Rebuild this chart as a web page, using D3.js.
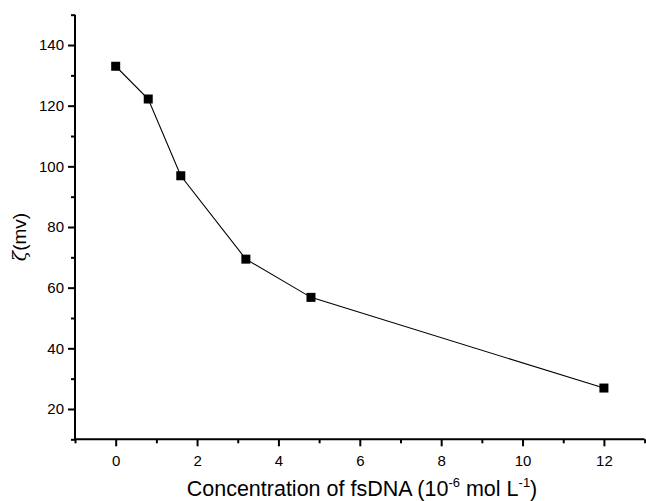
<!DOCTYPE html>
<html>
<head>
<meta charset="utf-8">
<script src="https://cdn.jsdelivr.net/npm/d3@7"></script>
<style>
  html, body { margin: 0; padding: 0; background: #fff; }
  svg { display: block; }
  text { font-family: "Liberation Sans", Arial, sans-serif; fill: #000; }
</style>
</head>
<body>
<script>
// Zeta potential versus fsDNA concentration
const concentration = [0, 0.8, 1.6, 3.2, 4.8, 12];
const zeta = [133, 122.2, 96.9, 69.4, 56.8, 26.9];
const xMajorTicks = [0, 2, 4, 6, 8, 10, 12];
const xMinorTicks = [-1, 1, 3, 5, 7, 9, 11, 13];
const yMajorTicks = [20, 40, 60, 80, 100, 120, 140];
const yMinorTicks = [10, 30, 50, 70, 90, 110, 130, 150];

const W = 646, H = 501;
const svg = d3.select("body").append("svg").attr("width", W).attr("height", H);

const x = d3.scaleLinear().domain([-1, 13]).range([75, 644.6]);
const y = d3.scaleLinear().domain([10, 150]).range([439.3, 14.7]);

const axisColor = "#000";

// X axis: major ticks with labels, then minor ticks
const gx = svg.append("g").attr("transform", `translate(0,${y(10)})`);
gx.call(d3.axisBottom(x).tickValues(xMajorTicks).tickSize(7).tickPadding(5).tickFormat(d3.format("d")))
  .call(g => g.select(".domain").remove())
  .call(g => g.selectAll("line").attr("stroke", axisColor).attr("stroke-width", 2))
  .call(g => g.selectAll("text").attr("font-size", 15).attr("dy", "0.95em"));
gx.append("g").call(d3.axisBottom(x).tickValues(xMinorTicks).tickSize(4).tickFormat(""))
  .call(g => g.select(".domain").remove())
  .call(g => g.selectAll("line").attr("stroke", axisColor).attr("stroke-width", 2));

// Y axis: major ticks with labels, then minor ticks
const gy = svg.append("g").attr("transform", `translate(${x(-1)},0)`);
gy.call(d3.axisLeft(y).tickValues(yMajorTicks).tickSize(7).tickPadding(4).tickFormat(d3.format("d")))
  .call(g => g.select(".domain").remove())
  .call(g => g.selectAll("line").attr("stroke", axisColor).attr("stroke-width", 2))
  .call(g => g.selectAll("text").attr("font-size", 15));
gy.append("g").call(d3.axisLeft(y).tickValues(yMinorTicks).tickSize(4).tickFormat(""))
  .call(g => g.select(".domain").remove())
  .call(g => g.selectAll("line").attr("stroke", axisColor).attr("stroke-width", 2));

// Axis lines
svg.append("line")
  .attr("x1", x(-1)).attr("x2", x(13)).attr("y1", y(10)).attr("y2", y(10))
  .attr("stroke", axisColor).attr("stroke-width", 2);
svg.append("line")
  .attr("x1", x(-1)).attr("x2", x(-1)).attr("y1", y(10)).attr("y2", y(150))
  .attr("stroke", axisColor).attr("stroke-width", 2);

// Data line and square markers
const pts = concentration.map((c, i) => [c, zeta[i]]);
svg.append("path")
  .datum(pts)
  .attr("fill", "none")
  .attr("stroke", "#000")
  .attr("stroke-width", 1.1)
  .attr("d", d3.line().x(d => x(d[0])).y(d => y(d[1])));

const ms = 9;
svg.append("g").selectAll("rect")
  .data(pts)
  .join("rect")
  .attr("x", d => x(d[0]) - ms / 2)
  .attr("y", d => y(d[1]) - ms / 2)
  .attr("width", ms)
  .attr("height", ms)
  .attr("fill", "#000");

// Axis titles
const xt = svg.append("text")
  .attr("x", 362).attr("y", 496)
  .attr("text-anchor", "middle")
  .attr("font-size", 21.5);
xt.append("tspan").text("Concentration of fsDNA (10");
xt.append("tspan").attr("font-size", 13).attr("dy", -9).text("-6");
xt.append("tspan").attr("dy", 9).text(" mol L");
xt.append("tspan").attr("font-size", 13).attr("dy", -9).text("-1");
xt.append("tspan").attr("dy", 9).text(")");

const yt = svg.append("text")
  .attr("transform", `translate(26,${237}) rotate(-90)`)
  .attr("text-anchor", "middle")
  .attr("font-size", 19);
yt.append("tspan").attr("font-style", "italic").attr("font-family", "DejaVu Serif, serif").text("ζ");
yt.append("tspan").text("(mv)");
</script>
</body>
</html>
